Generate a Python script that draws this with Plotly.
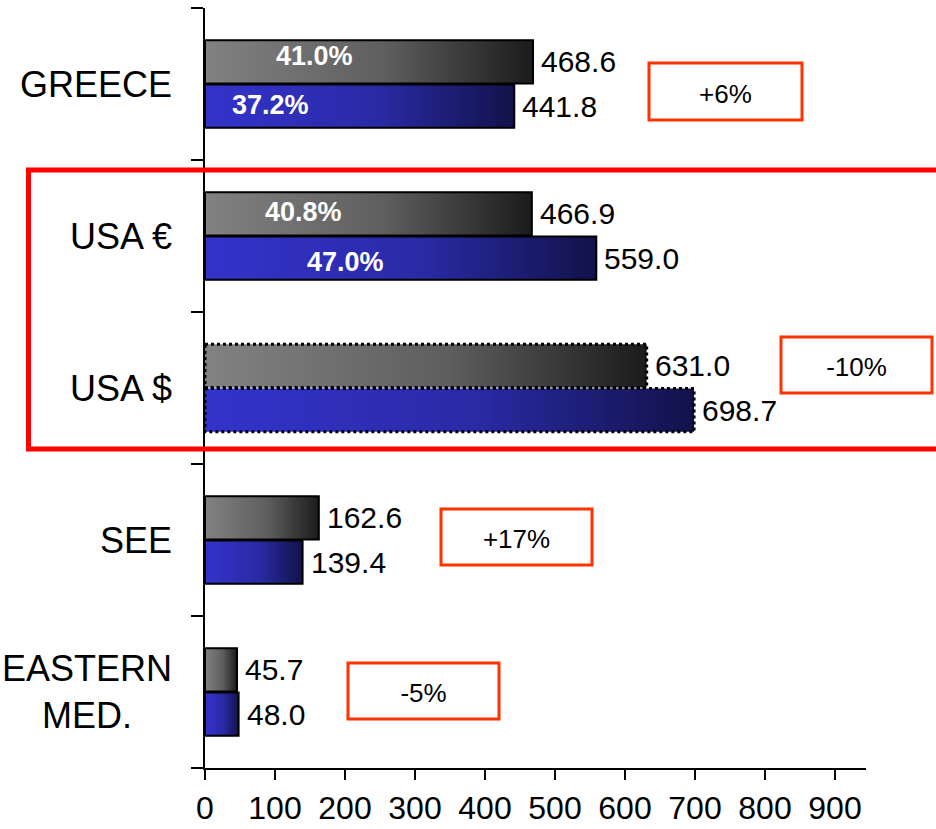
import plotly.graph_objects as go

# Regional figures: current period (grey) vs prior period (blue)
categories = ["GREECE", "USA €", "USA $", "SEE", "EASTERN<br>MED."]
current_values = [468.6, 466.9, 631.0, 162.6, 45.7]
prior_values = [441.8, 559.0, 698.7, 139.4, 48.0]
current_shares = ["41.0%", "40.8%", None, None, None]
prior_shares = ["37.2%", "47.0%", None, None, None]
change_labels = ["+6%", None, "-10%", "+17%", "-5%"]
x_ticks = [0, 100, 200, 300, 400, 500, 600, 700, 800, 900]

FONT = "Liberation Sans, Arial, sans-serif"
GREY_SCALE = [[0, "#828282"], [0.55, "#5e5e5e"], [1, "#1b1b1b"]]
BLUE_SCALE = [[0, "#3333cc"], [0.55, "#2a2aa6"], [1, "#12124a"]]
dotted_rows = {"USA $"}

# layout helpers (placement only)
BAR_H = 0.284
GAP = 0.004
share_x = {0: (156, 93), 1: (140, 201)}
share_dy = {0: (-6, -1), 1: (-2, 4)}
# change boxes in page pixels: x0, x1, y0, y1
change_boxes = {0: (649, 802, 63, 120), 2: (781, 932, 337, 393),
                3: (441, 592, 509, 565), 4: (348, 499, 663, 719)}

PLOT_L, PLOT_R, PLOT_T, PLOT_B = 205, 866, 8, 768


def px_to_paper(px, py):
    return (px - PLOT_L) / (PLOT_R - PLOT_L), (PLOT_B - py) / (PLOT_B - PLOT_T)


fig = go.Figure()

for i, cat in enumerate(categories):
    dotted = cat in dotted_rows
    dash = "3px,3px" if dotted else "solid"
    lw = 3 if dotted else 2
    for val, y0, y1, scale in (
        (current_values[i], i - GAP - BAR_H, i - GAP, GREY_SCALE),
        (prior_values[i], i + GAP, i + GAP + BAR_H, BLUE_SCALE),
    ):
        fig.add_trace(go.Scatter(
            x=[0, val, val, 0, 0], y=[y0, y0, y1, y1, y0],
            mode="lines", fill="toself",
            fillgradient=dict(type="horizontal", colorscale=scale),
            line=dict(color="black", width=lw, dash=dash),
            hoverinfo="skip", showlegend=False,
        ))
        fig.add_annotation(
            x=val, y=(y0 + y1) / 2, xref="x", yref="y",
            text=f"{val:.1f}", showarrow=False, xanchor="left", xshift=6,
            font=dict(family=FONT, size=30, color="black"),
        )

    # category label
    fig.add_annotation(
        x=0, y=i, xref="paper", yref="y", text=cat, showarrow=False,
        xanchor="right", xshift=-31, align="center",
        font=dict(family=FONT, size=36, color="black"),
    )

    # share labels inside the bars
    for k, (label, yc) in enumerate(((current_shares[i], i - GAP - BAR_H / 2),
                                     (prior_shares[i], i + GAP + BAR_H / 2))):
        if label:
            fig.add_annotation(
                x=share_x[i][k], y=yc, xref="x", yref="y", text=f"<b>{label}</b>",
                showarrow=False, yshift=-share_dy[i][k],
                font=dict(family=FONT, size=27, color="white"),
            )

    # change boxes
    if change_labels[i]:
        bx0, bx1, by0, by1 = change_boxes[i]
        px0, py0 = px_to_paper(bx0, by1)
        px1, py1 = px_to_paper(bx1, by0)
        fig.add_shape(
            type="rect", xref="paper", yref="paper", x0=px0, x1=px1, y0=py0, y1=py1,
            line=dict(color="#ff3300", width=3), fillcolor="rgba(0,0,0,0)",
            label=dict(text=change_labels[i],
                       font=dict(family=FONT, size=26, color="black")),
        )

# highlight frame around the two USA rows
fx0, fy0 = px_to_paper(28.5, 449)
fx1, fy1 = px_to_paper(945, 170)
fig.add_shape(type="rect", xref="paper", yref="paper", x0=fx0, x1=fx1, y0=fy0, y1=fy1,
              line=dict(color="#ff0000", width=5), fillcolor="rgba(0,0,0,0)")

fig.update_layout(
    width=936, height=829,
    margin=dict(l=PLOT_L, r=936 - PLOT_R, t=PLOT_T, b=829 - PLOT_B),
    paper_bgcolor="white", plot_bgcolor="white",
    showlegend=False,
    xaxis=dict(
        range=[0, 944.3], tickvals=x_ticks, ticktext=[str(t) for t in x_ticks],
        showgrid=False, zeroline=False, showline=True, linecolor="black", linewidth=2,
        ticks="outside", ticklen=10, tickwidth=2, tickcolor="black",
        ticklabelstandoff=1, automargin=False,
        tickfont=dict(family=FONT, size=32, color="black"), fixedrange=True,
    ),
    yaxis=dict(
        range=[4.5, -0.5], tickvals=[-0.5, 0.5, 1.5, 2.5, 3.5, 4.5],
        showticklabels=False, showgrid=False, zeroline=False, automargin=False,
        showline=True, linecolor="black", linewidth=2,
        ticks="outside", ticklen=12, tickwidth=2, tickcolor="black", fixedrange=True,
    ),
)

fig.write_html("out.html")
